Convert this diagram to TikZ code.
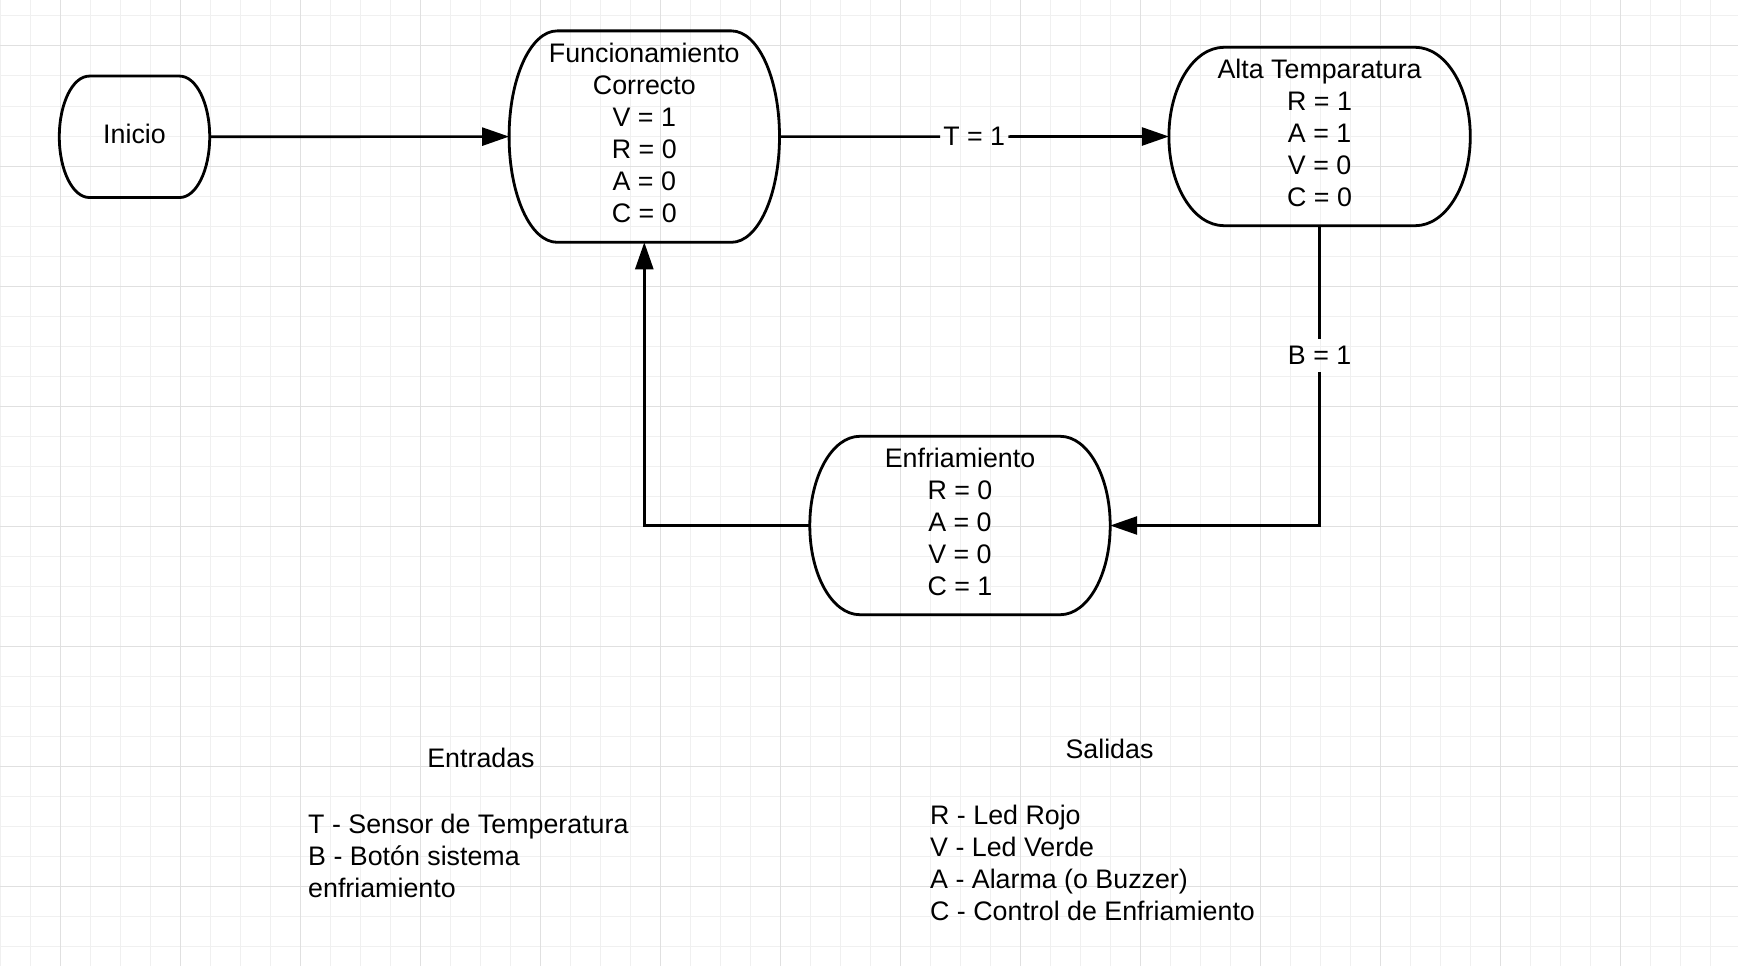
\documentclass[tikz,border=0pt]{standalone}
\usepackage{fontspec}
\setmainfont{Liberation Sans}
\usetikzlibrary{arrows.meta,calc}

\begin{document}
\begin{tikzpicture}[
  x=1pt, y=-1pt,
  font=\fontsize{26.8}{32}\selectfont,
  rejilla/.style={black!6, line width=1pt},
  rejillamayor/.style={black!12, line width=1pt},
  estado/.style={inner sep=0pt, align=center, execute at end node={\rule[-7pt]{0pt}{7pt}}},
  borde/.style={line width=2.8pt, line join=round},
  linea/.style={line width=2.6pt},
  flecha/.style={linea, -{Triangle[length=27pt,width=18pt]}},
  etiqueta/.style={inner xsep=3pt, inner ysep=7pt},
  leyenda/.style={inner sep=0pt}
]
% fondo
\fill[white] (0,0) rectangle (1738,966);
\useasboundingbox (0,0) rectangle (1738,966);
% rejilla
\foreach \gx in {0,30,...,1740} \draw[rejilla] (\gx,0) -- (\gx,966);
\foreach \gy in {16,46,...,966} \draw[rejilla] (0,\gy) -- (1738,\gy);
\foreach \gx in {60,180,...,1738} \draw[rejillamayor] (\gx,0) -- (\gx,966);
\foreach \gy in {46,166,...,966} \draw[rejillamayor] (0,\gy) -- (1738,\gy);
% estados
\node[estado, minimum width=150pt, minimum height=121pt] (inicio) at (134.5,136.8) {Inicio};
\node[estado, minimum width=270pt, minimum height=211pt] (funcion) at (644.3,136.6) {Funcionamiento\\Correcto\\V = 1\\R = 0\\A = 0\\C = 0};
\node[estado, minimum width=301pt, minimum height=178pt] (alta) at (1319.6,136.5) {Alta Temparatura\\R = 1\\A = 1\\V = 0\\C = 0};
\node[estado, minimum width=300pt, minimum height=178pt] (enfria) at (960,525.5) {Enfriamiento\\R = 0\\A = 0\\V = 0\\C = 1};
% contornos
\foreach \nodo/\bul in {inicio/30, funcion/48, alta/55, enfria/50} {
  \draw[borde] let \p1=(\nodo.north west), \p2=(\nodo.south east) in
    (\x1+\bul*1pt,\y1) -- (\x2-\bul*1pt,\y1)
    arc[start angle=90, end angle=-90, x radius={\bul*1pt}, y radius={(\y1-\y2)/2}]
    -- (\x1+\bul*1pt,\y2)
    arc[start angle=270, end angle=90, x radius={\bul*1pt}, y radius={(\y1-\y2)/2}]
    -- cycle;
}
% conectores
\draw[flecha] (inicio.east) -- (funcion.west);
\node[etiqueta] (condT) at ($(funcion.east)!0.5!(alta.west)$) {T = 1};
\draw[linea] (funcion.east) -- (condT.west);
\draw[flecha] (condT.east) -- (alta.west);
\node[etiqueta] (condB) at ($(alta.south)+(0,130)$) {B = 1};
\draw[linea] (alta.south) -- (condB.north);
\draw[flecha] (condB.south) |- (enfria.east);
\draw[flecha] (enfria.west) -| (funcion.south);
% entradas y salidas
\node[leyenda, anchor=base] (entradas) at (481,767.5) {Entradas};
\foreach \txt [count=\i] in {T - Sensor de Temperatura, B - Botón sistema, enfriamiento}
  \node[leyenda, anchor=base west] (ent\i) at (308,801+32*\i) {\txt};
\node[leyenda, anchor=base] (salidas) at (1109.5,758.5) {Salidas};
\foreach \txt [count=\i] in {R - Led Rojo, V - Led Verde, A - Alarma (o Buzzer), C - Control de Enfriamiento}
  \node[leyenda, anchor=base west] (sal\i) at (930,792+32*\i) {\txt};
\end{tikzpicture}
\end{document}
